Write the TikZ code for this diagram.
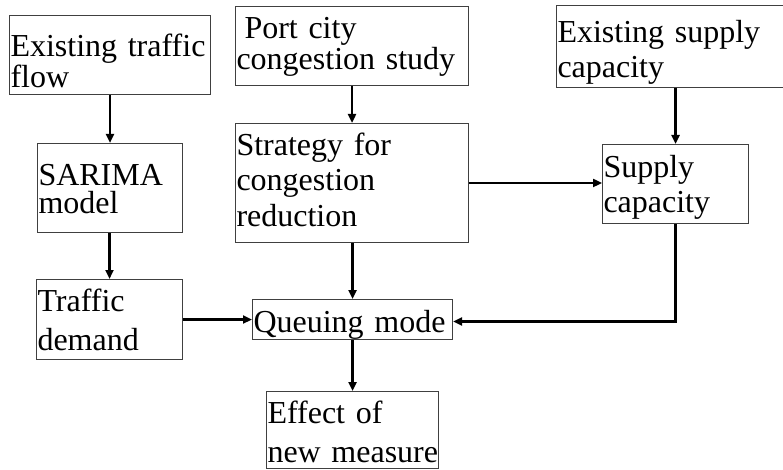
\documentclass[tikz,border=0pt]{standalone}
\usepackage{fontspec}
\setmainfont{Liberation Serif}
\usetikzlibrary{arrows.meta,calc}
\newcommand\myboxfont[1]{\fontsize{32}{#1}\selectfont\hyphenpenalty=10000\relax}
\tikzset{
  box/.style={draw=black!75, line width=1pt, anchor=north west, inner xsep=1pt, inner ysep=0pt,
    align=left, font=\myboxfont{31}},
  flow/.style={line width=2.3pt, -{Triangle[length=9pt,width=8pt]}}
}
\begin{document}
\begin{tikzpicture}[x=1pt,y=-1pt]
\useasboundingbox (0,0) rectangle (783,470);
\node[box, text width=199, text height=41, text depth=38] (b1) at (9,15) {Existing traffic\\flow};
\node[box, text width=231, text height=32, text depth=47] (b2) at (235,6) {\hspace*{8pt}Port city\\congestion study};
\node[box, text width=232, text height=37, text depth=45, font=\myboxfont{35}] (b3) at (556,5) {Existing supply\\capacity};
\node[box, text width=143, text height=42, text depth=47, font=\myboxfont{28.5}] (b4) at (37,143) {SARIMA\\model};
\node[box, text width=231, text height=32, text depth=87, font=\myboxfont{35.5}] (b5) at (235,123) {Strategy for\\congestion\\reduction};
\node[box, text width=144, text height=33, text depth=46, font=\myboxfont{35}] (b6) at (602,144) {Supply\\capacity};
\node[box, text width=144, text height=32, text depth=48, font=\myboxfont{39}] (b7) at (36,279) {Traffic\\demand};
\node[box, text width=198, text height=33, text depth=7] (b8) at (252,299) {Queuing mode};
\node[box, inner xsep=0pt, text width=172, text height=32, text depth=45, font=\myboxfont{38.5}] (b9) at (266,391) {\hspace*{1pt}Effect of\\\hspace*{1pt}\mbox{new measure}};
\draw[flow] (b1.south -| b4.north) -- (b4.north);
\draw[flow] (b4.south -| b7.north) -- (b7.north);
\draw[flow] (b2.south -| b5.north) -- (b5.north);
\draw[flow] (b5.south -| b8.north) -- (b8.north);
\draw[flow] (b8.south -| b9.north) -- (b9.north);
\draw[flow] (b3.south -| b6.north) -- (b6.north);
\draw[flow] (b5.east) -- (b5.east -| b6.west);
\draw[flow] (b7.east) -- (b7.east -| b8.west);
\draw[flow] (b6.south) |- ($(b8.east)+(0,2)$);
\end{tikzpicture}
\end{document}
